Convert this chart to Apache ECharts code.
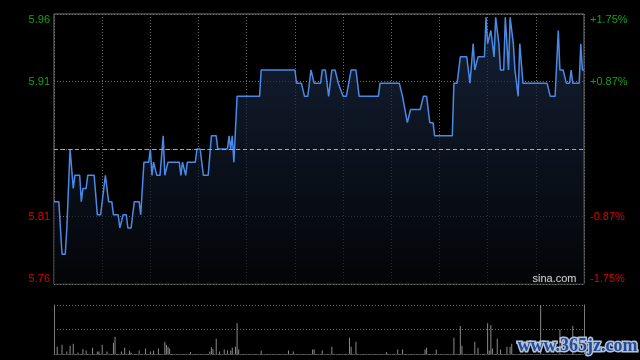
<!DOCTYPE html>
<html>
<head>
<meta charset="utf-8">
<script src="https://cdn.jsdelivr.net/npm/echarts@6/dist/echarts.min.js"></script>
<style>
html,body{margin:0;padding:0;background:#000;}
#chart{width:640px;height:360px;}
</style>
</head>
<body>
<div id="chart"></div>
<script>
// Minute index (0 = open, 330 = close) at each price change point
const minutes = [0,3,5,7,8,9,10,12,13,16,17,18,20,21,25,27,29,30,31,32,34,36,37,40,41,42,43,45,46,48,50,53,54,55,56,59,60,61,62,63,64,66,68,69,71,78,79,80,81,82,83,88,89,91,93,96,98,101,102,108,109,110,111,112,114,128,129,150,151,154,156,158,160,162,166,167,169,171,173,175,177,178,180,182,185,188,190,202,203,215,217,218,220,222,228,230,232,234,236,237,248,249,251,253,257,259,261,262,264,268,269,270,271,272,273,274,275,276,277,278,280,281,282,283,284,286,287,288,289,290,291,292,307,309,312,314,315,317,319,321,322,323,327,328,329,330];
const prices = [5.82,5.82,5.78,5.78,5.80,5.80,5.86,5.83,5.84,5.84,5.82,5.83,5.83,5.84,5.84,5.81,5.81,5.82,5.82,5.84,5.82,5.82,5.81,5.81,5.80,5.80,5.81,5.81,5.80,5.80,5.82,5.82,5.81,5.81,5.85,5.85,5.86,5.84,5.85,5.85,5.84,5.84,5.87,5.84,5.85,5.85,5.84,5.85,5.85,5.84,5.85,5.85,5.86,5.86,5.84,5.84,5.87,5.87,5.86,5.86,5.87,5.86,5.87,5.85,5.90,5.90,5.92,5.92,5.91,5.91,5.90,5.90,5.92,5.91,5.91,5.92,5.92,5.90,5.92,5.92,5.91,5.91,5.90,5.90,5.92,5.92,5.90,5.90,5.91,5.91,5.90,5.90,5.88,5.89,5.89,5.90,5.90,5.88,5.88,5.87,5.87,5.91,5.91,5.93,5.93,5.91,5.94,5.92,5.93,5.93,5.96,5.94,5.94,5.95,5.95,5.93,5.96,5.96,5.94,5.92,5.92,5.96,5.96,5.92,5.96,5.94,5.92,5.92,5.90,5.94,5.94,5.91,5.91,5.90,5.90,5.95,5.92,5.92,5.91,5.91,5.92,5.91,5.91,5.94,5.92,5.92];

// Volume bars (minute index, relative volume)
const volMinutes = [2,5,8,10,12,15,18,20,24,27,28,30,33,37,38,42,44,47,48,53,57,60,62,65,69,70,71,72,85,97,98,99,101,103,106,108,110,111,113,114,115,129,146,149,161,162,167,173,184,185,188,207,214,217,231,232,238,249,253,254,262,264,270,271,272,273,276,278,282,284,285,303,315,323];
const volValues = [15,19,5,17,21,3,10,7,13,5,5,19,5,23,35,5,13,7,3,7,11,5,7,11,25,19,15,11,4,5,14,10,31,5,9,7,7,13,15,63,9,7,7,5,9,9,7,15,33,15,25,4,9,9,9,13,9,33,57,17,25,13,63,7,59,11,31,9,15,15,21,100,50,57];

// Axis: previous close and symmetric percentage range; tick labels at quarter positions
const prevClose = 5.86;
const rangePct = 1.75;
const leftTickLabels = ['5.76','5.81','','5.91','5.96'];
const rightTickLabels = ['-1.75%','-0.87%','','+0.87%','+1.75%'];

const GREEN = '#14a014', RED = '#dd0000', GRID = '#6e6e6e', BORDER = '#7a7a7a';
const priceMin = prevClose * (1 - rangePct / 100);
const priceMax = prevClose * (1 + rangePct / 100);

function labelColor(v){ return v > 2 ? GREEN : RED; }
const FONT = 'Liberation Sans, Arial, sans-serif';

const chart = echarts.init(document.getElementById('chart'), null, {renderer:'canvas'});
chart.setOption({
  backgroundColor:'#000',
  animation:false,
  grid:[
    {left:54, top:14, width:530, height:270, show:true, borderColor:BORDER, borderWidth:1, backgroundColor:'transparent'},
    {left:54, top:305, width:530, height:49}
  ],
  xAxis:[
    {type:'value', gridIndex:0, min:0, max:330, interval:30,
     axisLine:{show:false}, axisTick:{show:false}, axisLabel:{show:false},
     splitLine:{show:true, lineStyle:{color:GRID, type:[1,2], width:1}}},
    {type:'value', gridIndex:1, min:0, max:330, interval:330,
     axisLine:{show:true, onZero:false, lineStyle:{color:'#555', type:[1,1]}}, axisTick:{show:false}, axisLabel:{show:false},
     splitLine:{show:false}}
  ],
  yAxis:[
    // price scale used by the line (hidden)
    {type:'value', gridIndex:0, min:priceMin, max:priceMax, show:false, splitLine:{show:false}},
    // left label/grid scale: quarters of the range
    {type:'value', gridIndex:0, position:'left', min:0, max:4, interval:1,
     axisLine:{show:false}, axisTick:{show:false},
     splitLine:{show:true, lineStyle:{color:GRID, type:[1,2], width:1}},
     axisLabel:{margin:4, fontFamily:FONT, fontSize:11,
       verticalAlignMaxLabel:'top', verticalAlignMinLabel:'bottom',
       formatter:function(v){return leftTickLabels[Math.round(v)] || '';},
       color:function(v){return labelColor(Number(v));} }},
    {type:'value', gridIndex:0, position:'right', min:0, max:4, interval:1,
     axisLine:{show:false}, axisTick:{show:false}, splitLine:{show:false},
     axisLabel:{margin:6, fontFamily:FONT, fontSize:11,
       verticalAlignMaxLabel:'top', verticalAlignMinLabel:'bottom',
       formatter:function(v){return rightTickLabels[Math.round(v)] || '';},
       color:function(v){return labelColor(Number(v));} }},
    {type:'value', gridIndex:1, position:'left', min:0, max:100, interval:50,
     axisLine:{show:true, lineStyle:{color:BORDER}}, axisTick:{show:false}, axisLabel:{show:false},
     splitLine:{show:true, lineStyle:{color:GRID, type:[1,2]}}},
    {type:'value', gridIndex:1, position:'right', min:0, max:100, interval:50,
     axisLine:{show:true, lineStyle:{color:BORDER}}, axisTick:{show:false}, axisLabel:{show:false},
     splitLine:{show:false}}
  ],
  series:[
    {type:'line', xAxisIndex:0, yAxisIndex:0, showSymbol:false, symbol:'none',
     data: minutes.map((m,i)=>[m, prices[i]]),
     lineStyle:{color:'#4a8ae6', width:1.5},
     areaStyle:{origin:'start', color:new echarts.graphic.LinearGradient(0,0,0,1,[
       {offset:0, color:'#1d2e4c'},{offset:1, color:'#04060a'}])},
     markLine:{silent:true, symbol:'none', label:{show:false},
       lineStyle:{color:'#a8a8a8', type:[4,3], width:1},
       data:[{yAxis:prevClose}]}},
    {type:'bar', xAxisIndex:1, yAxisIndex:3, barWidth:1,
     data: volMinutes.map((m,i)=>[m, volValues[i]]),
     itemStyle:{color:'#8a8a8a'}}
  ],
  graphic:[
    {type:'text', left:532, top:273, z:100,
     style:{text:'sina.com', fill:'#c8c8c8', font:'11px "Liberation Sans", Arial, sans-serif', stroke:'#222', lineWidth:1}},
    {type:'text', left:516, top:336, z:100,
     style:{text:'www.365jz.com', fill:'#1f4c9c', font:'bold 18px "Liberation Serif", serif', stroke:'#b8c2d4', lineWidth:3}}
  ]
});
</script>
</body>
</html>
